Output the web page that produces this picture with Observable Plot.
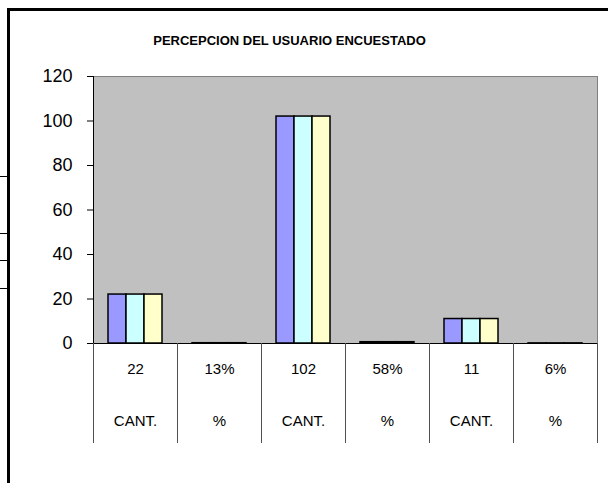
<!DOCTYPE html>
<html><head><meta charset="utf-8">
<script src="https://cdn.jsdelivr.net/npm/d3@7"></script>
<script src="https://cdn.jsdelivr.net/npm/@observablehq/plot@0.6"></script>
<style>
body{margin:0;background:#fff;}
#wrap{position:relative;width:608px;height:483px;overflow:hidden;font-family:"Liberation Sans",Arial,sans-serif;background:#fff;}
#chart{position:absolute;left:0;top:0;}
#frame{position:absolute;left:7px;top:8px;width:700px;height:600px;border-left:3px solid #000;border-top:3px solid #000;}
.cell{position:absolute;left:0;width:7px;height:1px;background:#000;}
#title{position:absolute;left:0;width:579px;top:33px;text-align:center;font-weight:bold;font-size:13px;line-height:15px;color:#000;}
</style></head>
<body>
<div id="wrap">
  <div id="chart"></div>
  <div id="frame"></div>
  <div class="cell" style="top:176px"></div>
  <div class="cell" style="top:233px"></div>
  <div class="cell" style="top:260px"></div>
  <div class="cell" style="top:288px"></div>
  <div id="title"></div>
</div>
<script>
const title = "PERCEPCION DEL USUARIO ENCUESTADO";
const categories = ["22", "13%", "102", "58%", "11", "6%"];
const kinds = ["CANT.", "%", "CANT.", "%", "CANT.", "%"];
const seriesNames = ["Serie1", "Serie2", "Serie3"];
const serie1 = [22, 0.13, 102, 0.58, 11, 0.06];
const serie2 = [22, 0.13, 102, 0.58, 11, 0.06];
const serie3 = [22, 0.13, 102, 0.58, 11, 0.06];
const colors = ["#9999ff", "#ccffff", "#ffffcc"];
const yTicks = [0, 20, 40, 60, 80, 100, 120];

const rows = [];
[serie1, serie2, serie3].forEach((vals, s) =>
  vals.forEach((v, i) => rows.push({cat: categories[i], serie: seriesNames[s], value: v})));
const labels = categories.map((c, i) => ({cat: c, kind: kinds[i]}));

document.getElementById("title").textContent = title;

const chart = Plot.plot({
  width: 608, height: 483,
  marginLeft: 92, marginRight: 11, marginTop: 76, marginBottom: 140,
  style: {fontFamily: "Liberation Sans, Arial, sans-serif", fontSize: "15px", color: "#000", background: "transparent", overflow: "visible"},
  fx: {domain: categories, padding: 0, axis: null},
  x: {domain: seriesNames, paddingInner: 0, paddingOuter: 0.75, axis: null},
  y: {domain: [0, 120], axis: null},
  color: {domain: seriesNames, range: colors},
  marks: [
    Plot.frame({fill: "#c0c0c0", stroke: "#c0c0c0"}),
    Plot.frame({anchor: "top", stroke: "#808080"}),
    Plot.frame({anchor: "right", stroke: "#808080", facetAnchor: "right"}),
    Plot.barY(rows, {fx: "cat", x: "serie", y: "value", fill: "serie", stroke: "#000", strokeWidth: 1.5}),
    Plot.ruleY([0], {stroke: "#000"}),
    Plot.frame({anchor: "left", stroke: "#000", facetAnchor: "left"}),
    Plot.frame({anchor: "left", stroke: "#505050", insetTop: 267, insetBottom: -99}),
    Plot.frame({anchor: "right", stroke: "#505050", insetTop: 267, insetBottom: -99, facetAnchor: "right"}),
    Plot.axisY({ticks: yTicks, tickSize: 6, tickPadding: 15, fontSize: 18, label: null, facetAnchor: "left"}),
    Plot.text(labels, {fx: "cat", text: "cat", frameAnchor: "bottom", dy: 30, fontSize: 15}),
    Plot.text(labels, {fx: "cat", text: "kind", frameAnchor: "bottom", dy: 82, fontSize: 15})
  ]
});
document.getElementById("chart").appendChild(chart);
</script>
</body></html>
